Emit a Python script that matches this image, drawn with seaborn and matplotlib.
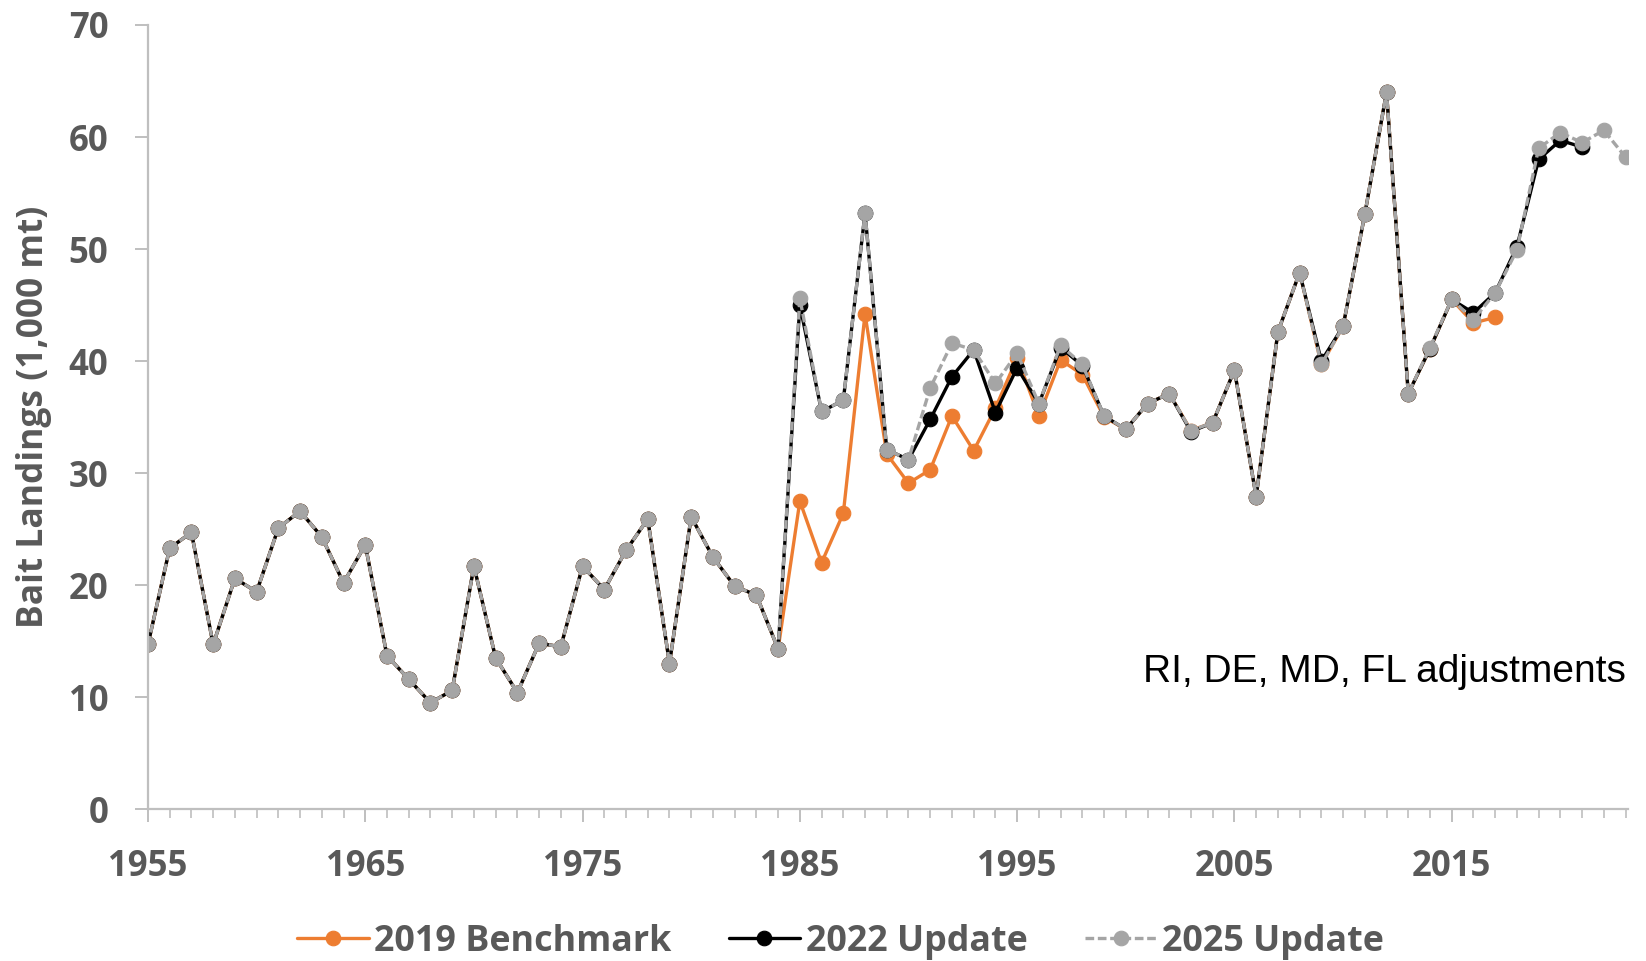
import matplotlib
matplotlib.use("Agg")
import matplotlib.pyplot as plt
import pandas as pd
import seaborn as sns
from matplotlib.ticker import MultipleLocator

# ---------------- data ----------------
years = list(range(1955, 2024))

bench_2019 = [
    14.7, 23.3, 24.7, 14.7, 20.6, 19.4, 25.1, 26.6, 24.3, 20.2,
    23.6, 13.7, 11.6, 9.5, 10.6, 21.7, 13.5, 10.4, 14.8, 14.5,
    21.7, 19.6, 23.1, 25.9, 13.0, 26.1, 22.5, 19.9, 19.1, 14.3,
    27.5, 22.0, 26.4, 44.2, 31.7, 29.1, 30.3, 35.1, 32.0, 35.8,
    40.3, 35.1, 40.1, 38.8, 35.0, 33.9, 36.2, 37.1, 33.8, 34.5,
    39.2, 27.9, 42.6, 47.9, 39.7, 43.1, 53.1, 64.0, 37.1, 41.1,
    45.5, 43.4, 43.9,
]

update_2022 = [
    14.7, 23.3, 24.7, 14.7, 20.6, 19.4, 25.1, 26.6, 24.3, 20.2,
    23.6, 13.7, 11.6, 9.5, 10.6, 21.7, 13.5, 10.4, 14.8, 14.5,
    21.7, 19.6, 23.1, 25.9, 13.0, 26.1, 22.5, 19.9, 19.1, 14.3,
    45.0, 35.5, 36.5, 53.2, 32.1, 31.2, 34.8, 38.6, 41.0, 35.4,
    39.4, 36.2, 41.2, 39.6, 35.1, 33.9, 36.2, 37.1, 33.7, 34.5,
    39.2, 27.9, 42.6, 47.9, 40.0, 43.1, 53.1, 64.0, 37.1, 41.1,
    45.5, 44.3, 46.1, 50.2, 58.0, 59.7, 59.1,
]

update_2025 = [
    14.7, 23.3, 24.7, 14.7, 20.6, 19.4, 25.1, 26.6, 24.3, 20.2,
    23.6, 13.7, 11.6, 9.5, 10.6, 21.7, 13.5, 10.4, 14.8, 14.5,
    21.7, 19.6, 23.1, 25.9, 13.0, 26.1, 22.5, 19.9, 19.1, 14.3,
    45.6, 35.5, 36.5, 53.2, 32.1, 31.2, 37.6, 41.6, 41.0, 38.0,
    40.7, 36.2, 41.4, 39.7, 35.1, 33.9, 36.2, 37.1, 33.8, 34.5,
    39.2, 27.9, 42.6, 47.9, 39.7, 43.1, 53.1, 64.0, 37.1, 41.2,
    45.5, 43.7, 46.1, 49.9, 59.0, 60.4, 59.5, 60.6, 58.2,
]

series_names = ["2019 Benchmark", "2022 Update", "2025 Update"]
series_values = [bench_2019, update_2022, update_2025]

x_ticks = [1955, 1965, 1975, 1985, 1995, 2005, 2015]
y_ticks = [0, 10, 20, 30, 40, 50, 60, 70]
y_label = "Bait Landings (1,000 mt)"
note_text = "RI, DE, MD, FL adjustments"

# ---------------- styling ----------------
colors = {"2019 Benchmark": "#ED7D31", "2022 Update": "#000000", "2025 Update": "#A5A5A5"}
text_color = "#595959"
spine_color = "#BFBFBF"
bold_font = ["Open Sans", "DejaVu Sans"]

sns.set_theme(style="white")
plt.rcParams["font.family"] = ["Open Sans", "DejaVu Sans"]

frames = []
for name, vals in zip(series_names, series_values):
    frames.append(pd.DataFrame({"year": years[:len(vals)], "value": vals, "series": name}))
df = pd.concat(frames, ignore_index=True)

fig = plt.figure(figsize=(16.46, 9.61), dpi=100)
ax = fig.add_axes([0.0899, 0.158, 0.899, 0.816])

lw = 2.4
ms = 10.5
for name in series_names:
    sub = df[df["series"] == name]
    sns.lineplot(data=sub, x="year", y="value", ax=ax, color=colors[name],
                 marker="o", markersize=ms, markeredgewidth=0.8,
                 markeredgecolor=colors[name], linewidth=lw, label=name,
                 estimator=None, sort=False, legend=False)
    if name == "2025 Update":
        ax.lines[-1].set_dashes([2.6, 1.1])

ax.set_xlim(1955, 2023.1)
ax.set_ylim(0, 70)
ax.set_xticks(x_ticks)
ax.xaxis.set_minor_locator(MultipleLocator(1))
ax.set_yticks(y_ticks)

for s in ["top", "right"]:
    ax.spines[s].set_visible(False)
for s in ["left", "bottom"]:
    ax.spines[s].set_color(spine_color)
    ax.spines[s].set_linewidth(1.6)

ax.tick_params(axis="y", which="major", direction="out", length=9.4, width=1.4,
               color=spine_color, labelsize=25, labelcolor=text_color, pad=19, left=True)
ax.tick_params(axis="x", which="major", direction="out", length=9.4, width=1.4,
               color=spine_color, labelsize=25, labelcolor=text_color, pad=19, bottom=True)
ax.tick_params(axis="x", which="minor", direction="out", length=6.5, width=1.2,
               color=spine_color, bottom=True)
for lab in ax.get_xticklabels() + ax.get_yticklabels():
    lab.set_fontweight("bold")
    lab.set_family(bold_font)

ax.set_xlabel("")
ax.set_ylabel(y_label, fontsize=25.5, fontweight="bold", color=text_color,
              family=bold_font)
ax.yaxis.set_label_coords(-0.065, 0.5)

ax.text(0.999, 12.2, note_text, transform=ax.get_yaxis_transform(),
        ha="right", va="center", fontsize=28, color="#000000",
        family=["Liberation Sans", "DejaVu Sans"])

handles = ax.lines[:3]
leg = fig.legend(handles, series_names, loc="center", bbox_to_anchor=(0.5105, 0.020),
                 ncol=3, frameon=False, handlelength=2.0, handletextpad=0.15,
                 columnspacing=1.6,
                 prop={"family": bold_font, "weight": "bold", "size": 25.8})
for t in leg.get_texts():
    t.set_color(text_color)

fig.savefig("out.png", dpi=100)
